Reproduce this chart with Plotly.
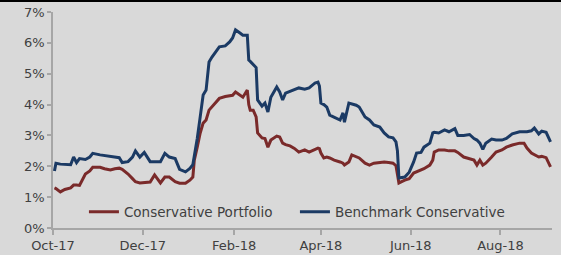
import plotly.graph_objects as go

dates = ["2017-10-02","2017-10-03","2017-10-06","2017-10-09","2017-10-13","2017-10-15","2017-10-17","2017-10-19","2017-10-23","2017-10-26","2017-10-28",
"2017-11-02","2017-11-05","2017-11-09","2017-11-12","2017-11-15","2017-11-17","2017-11-21","2017-11-24","2017-11-26","2017-11-29",
"2017-12-02","2017-12-06","2017-12-09","2017-12-13","2017-12-16","2017-12-19","2017-12-23","2017-12-26","2017-12-30",
"2018-01-02","2018-01-04","2018-01-05","2018-01-07","2018-01-09","2018-01-11","2018-01-13","2018-01-15","2018-01-17","2018-01-19","2018-01-22","2018-01-26","2018-01-29","2018-01-31",
"2018-02-02","2018-02-05","2018-02-07","2018-02-10","2018-02-11","2018-02-12","2018-02-14","2018-02-16","2018-02-17","2018-02-20","2018-02-22","2018-02-24","2018-02-26",
"2018-03-02","2018-03-04","2018-03-06","2018-03-08","2018-03-11","2018-03-14","2018-03-17","2018-03-21","2018-03-24","2018-03-28","2018-03-30","2018-03-31",
"2018-04-01","2018-04-03","2018-04-05","2018-04-07","2018-04-10","2018-04-14","2018-04-16","2018-04-17","2018-04-20","2018-04-22","2018-04-25","2018-04-27",
"2018-05-01","2018-05-04","2018-05-07","2018-05-11","2018-05-14","2018-05-17","2018-05-20","2018-05-22","2018-05-23","2018-05-24","2018-05-28","2018-05-31",
"2018-06-03","2018-06-05","2018-06-08","2018-06-10","2018-06-14","2018-06-16","2018-06-17","2018-06-20","2018-06-24","2018-06-27",
"2018-07-01","2018-07-03","2018-07-07","2018-07-11","2018-07-14","2018-07-16","2018-07-18","2018-07-20","2018-07-22","2018-07-26","2018-07-29",
"2018-08-02","2018-08-05","2018-08-09","2018-08-14","2018-08-17","2018-08-19","2018-08-22","2018-08-24","2018-08-27","2018-08-29","2018-09-01","2018-09-04"]

benchmark = [1.85,2.10,2.07,2.07,2.05,2.30,2.12,2.25,2.22,2.30,2.42,
2.37,2.35,2.33,2.30,2.28,2.12,2.15,2.30,2.50,2.30,
2.45,2.15,2.15,2.15,2.42,2.30,2.25,1.90,1.82,
1.93,2.05,2.30,2.90,3.60,4.31,4.47,5.38,5.54,5.67,5.87,5.90,6.03,6.16,
6.42,6.32,6.25,6.25,5.44,5.40,5.30,5.20,4.15,3.95,4.05,3.76,4.24,
4.57,4.41,4.15,4.37,4.42,4.47,4.54,4.50,4.54,4.70,4.73,4.60,
4.05,4.00,3.92,3.66,3.60,3.50,3.73,3.43,4.05,4.02,3.98,3.92,
3.60,3.50,3.34,3.27,3.08,2.95,2.92,2.79,2.50,1.62,1.65,1.81,
2.14,2.43,2.45,2.62,2.75,3.08,3.10,3.08,3.18,3.12,
3.22,3.00,3.00,3.03,2.90,2.85,2.75,2.55,2.75,2.88,2.85,
2.85,2.90,3.05,3.12,3.12,3.12,3.15,3.24,3.05,3.14,3.10,2.79]

portfolio = [1.30,1.28,1.17,1.25,1.30,1.39,1.39,1.38,1.75,1.85,1.97,
1.97,1.92,1.88,1.92,1.94,1.90,1.75,1.60,1.50,1.46,
1.48,1.49,1.72,1.46,1.65,1.65,1.50,1.45,1.45,
1.55,1.65,2.20,2.62,3.08,3.40,3.50,3.82,3.92,4.05,4.20,4.26,4.28,4.30,
4.41,4.30,4.24,4.47,4.00,3.82,3.82,3.60,3.08,2.92,2.90,2.62,2.85,
2.98,2.95,2.75,2.70,2.66,2.58,2.46,2.53,2.46,2.56,2.59,2.57,
2.43,2.27,2.30,2.27,2.20,2.14,2.10,2.04,2.14,2.37,2.30,2.27,
2.10,2.04,2.10,2.12,2.14,2.12,2.10,2.02,1.70,1.46,1.55,1.60,
1.78,1.82,1.88,1.92,2.04,2.20,2.46,2.53,2.53,2.50,
2.50,2.45,2.30,2.25,2.20,2.04,2.20,2.04,2.10,2.30,2.46,
2.53,2.62,2.69,2.75,2.75,2.59,2.43,2.38,2.30,2.32,2.28,1.98]

x_tick_vals = ["2017-10-01","2017-12-01","2018-02-01","2018-04-01","2018-06-01","2018-08-01"]
x_tick_text = ["Oct-17","Dec-17","Feb-18","Apr-18","Jun-18","Aug-18"]
y_tick_vals = [0,1,2,3,4,5,6,7]
y_tick_text = ["0%","1%","2%","3%","4%","5%","6%","7%"]

RED = "#7A2A2A"
BLUE = "#1B3A64"
BG = "#D9D9D9"
TXT = "#404040"
AX = "#A6A6A6"

fig = go.Figure()
fig.add_trace(go.Scatter(x=dates, y=portfolio, mode="lines", name="Conservative Portfolio",
                         line=dict(color=RED, width=3)))
fig.add_trace(go.Scatter(x=dates, y=benchmark, mode="lines", name="Benchmark Conservative",
                         line=dict(color=BLUE, width=3)))

fig.update_layout(
    width=561, height=255,
    margin=dict(l=53, r=9, t=12, b=27, autoexpand=False),
    paper_bgcolor=BG, plot_bgcolor=BG,
    font=dict(family="DejaVu Sans", size=13, color=TXT),
    showlegend=True,
    legend=dict(orientation="h", x=0.062, y=0.074, xanchor="left", yanchor="middle",
                bgcolor="rgba(0,0,0,0)", font=dict(size=13.5, color=TXT),
                itemwidth=30, tracegroupgap=0, entrywidth=166, entrywidthmode="pixels"),
    xaxis=dict(type="date", range=["2017-10-01","2018-09-05"], automargin=False,
               tickvals=x_tick_vals, ticktext=x_tick_text,
               showgrid=False, zeroline=False, showline=True, linecolor=AX, linewidth=1.5,
               ticks="outside", ticklen=5, tickcolor=AX, tickwidth=1.5,
               tickfont=dict(size=13, color=TXT)),
    yaxis=dict(range=[0,7], tickvals=y_tick_vals, ticktext=y_tick_text, automargin=False,
               showgrid=False, zeroline=False, showline=True, linecolor=AX, linewidth=1.5,
               ticks="outside", ticklen=4, tickcolor=AX, tickwidth=1.5,
               tickfont=dict(size=13, color=TXT)),
    shapes=[dict(type="line", xref="paper", yref="paper", x0=-0.11, x1=1.02,
                 y0=1.051, y1=1.051, line=dict(color="#000000", width=2))],
)

fig.write_html("out.html", config={"displayModeBar": False},
               post_script="document.body.style.margin='0';document.body.style.padding='0';document.body.style.overflow='hidden';")
